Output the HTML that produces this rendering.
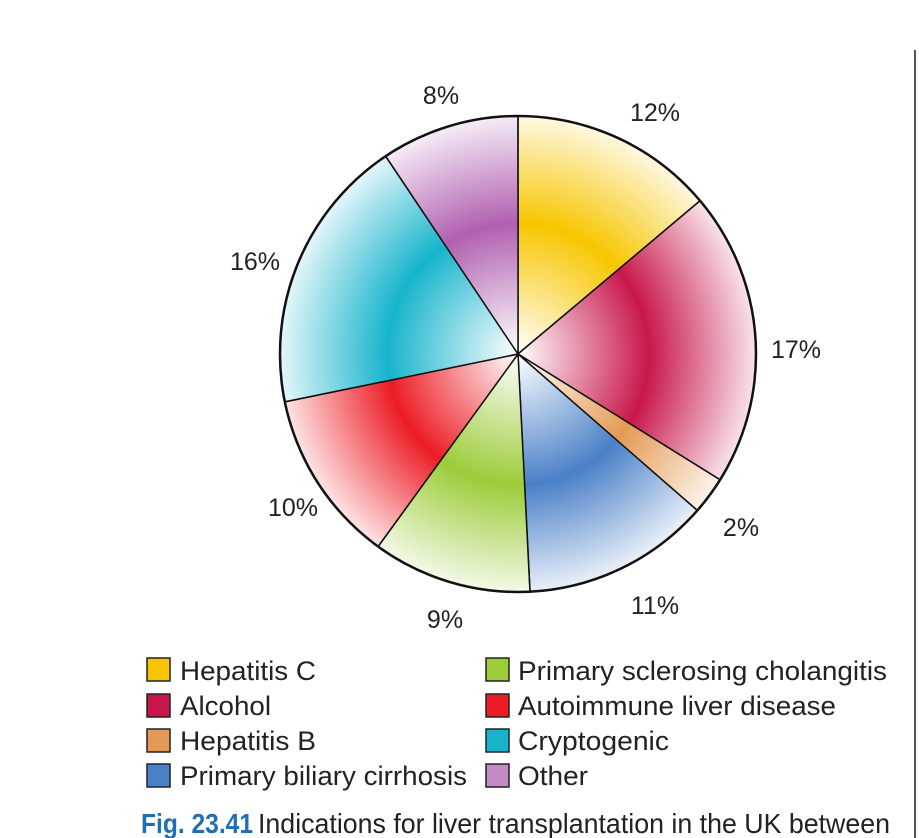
<!DOCTYPE html>
<html><head><meta charset="utf-8"><style>
body{margin:0;background:#fff;width:919px;height:838px;overflow:hidden;font-family:"Liberation Sans",sans-serif;}
</style></head><body>
<svg id="s" width="919" height="838" xmlns="http://www.w3.org/2000/svg" style="position:absolute;left:0;top:0">
<defs></defs>
<line x1="915" y1="50" x2="915" y2="838" stroke="#555" stroke-width="2"/>
<g id="pie"></g>
<g font-size="25" fill="#222" text-anchor="middle">
<text x="441" y="104">8%</text>
<text x="655" y="121">12%</text>
<text x="255" y="270">16%</text>
<text x="796" y="358">17%</text>
<text x="293" y="516">10%</text>
<text x="741" y="536">2%</text>
<text x="445" y="628">9%</text>
<text x="655" y="614">11%</text>
</g>
<g font-size="27" fill="#222">
<rect x="147" y="658" width="23" height="23" fill="#f7c600" stroke="#222" stroke-width="1.5"/>
<text x="180" y="680" textLength="136" lengthAdjust="spacingAndGlyphs">Hepatitis C</text>
<rect x="147" y="694" width="23" height="23" fill="#c8174b" stroke="#222" stroke-width="1.5"/>
<text x="180" y="715" textLength="91" lengthAdjust="spacingAndGlyphs">Alcohol</text>
<rect x="147" y="729" width="23" height="23" fill="#e49a55" stroke="#222" stroke-width="1.5"/>
<text x="180" y="750" textLength="136" lengthAdjust="spacingAndGlyphs">Hepatitis B</text>
<rect x="147" y="764" width="23" height="23" fill="#4a80c8" stroke="#222" stroke-width="1.5"/>
<text x="180" y="785" textLength="287" lengthAdjust="spacingAndGlyphs">Primary biliary cirrhosis</text>
<rect x="486" y="658" width="23" height="23" fill="#9ccc3a" stroke="#222" stroke-width="1.5"/>
<text x="518" y="680" textLength="369" lengthAdjust="spacingAndGlyphs">Primary sclerosing cholangitis</text>
<rect x="486" y="694" width="23" height="23" fill="#ec1c24" stroke="#222" stroke-width="1.5"/>
<text x="518" y="715" textLength="318" lengthAdjust="spacingAndGlyphs">Autoimmune liver disease</text>
<rect x="486" y="729" width="23" height="23" fill="#16b4cc" stroke="#222" stroke-width="1.5"/>
<text x="518" y="750" textLength="151" lengthAdjust="spacingAndGlyphs">Cryptogenic</text>
<rect x="486" y="764" width="23" height="23" fill="#c48ac4" stroke="#222" stroke-width="1.5"/>
<text x="518" y="785" textLength="70" lengthAdjust="spacingAndGlyphs">Other</text>
</g>
<text x="141" y="833" font-size="28" font-weight="bold" fill="#1f6fb5" textLength="112" lengthAdjust="spacingAndGlyphs">Fig. 23.41</text>
<text x="258" y="833" font-size="28" fill="#222" textLength="632" lengthAdjust="spacingAndGlyphs">Indications for liver transplantation in the UK between</text>
</svg>
<script>
var cx=518,cy=354,r=238,ns="http://www.w3.org/2000/svg";
var a=[0,49.9,121.9,131.1,177.1,216,258.4,326.2,360];
var c=["#f7c600","#c8174b","#e49a55","#4a80c8","#9ccc3a","#ec1c24","#16b4cc","#b060b0"];
var defs=document.querySelector("defs"),g=document.getElementById("pie");
function pt(d){var t=d*Math.PI/180;return [cx+r*Math.sin(t),cy-r*Math.cos(t)];}
for(var i=0;i<8;i++){
 var gr=document.createElementNS(ns,"radialGradient");
 gr.setAttribute("id","g"+i);gr.setAttribute("gradientUnits","userSpaceOnUse");
 gr.setAttribute("cx",cx);gr.setAttribute("cy",cy);gr.setAttribute("r",r);
 gr.innerHTML='<stop offset="0" stop-color="#fff"/><stop offset="0.55" stop-color="'+c[i]+'"/><stop offset="1" stop-color="'+c[i]+'" stop-opacity="0.12"/>';
 defs.appendChild(gr);
 var p0=pt(a[i]),p1=pt(a[i+1]),lg=(a[i+1]-a[i])>180?1:0;
 var p=document.createElementNS(ns,"path");
 p.setAttribute("d","M"+cx+","+cy+"L"+p0[0]+","+p0[1]+"A"+r+","+r+" 0 "+lg+" 1 "+p1[0]+","+p1[1]+"Z");
 p.setAttribute("fill","url(#g"+i+")");p.setAttribute("stroke","#111");p.setAttribute("stroke-width","1.5");
 g.appendChild(p);
}
var ci=document.createElementNS(ns,"circle");
ci.setAttribute("cx",cx);ci.setAttribute("cy",cy);ci.setAttribute("r",r);ci.setAttribute("fill","none");ci.setAttribute("stroke","#111");ci.setAttribute("stroke-width","2.5");
g.appendChild(ci);
</script>
</body></html>
